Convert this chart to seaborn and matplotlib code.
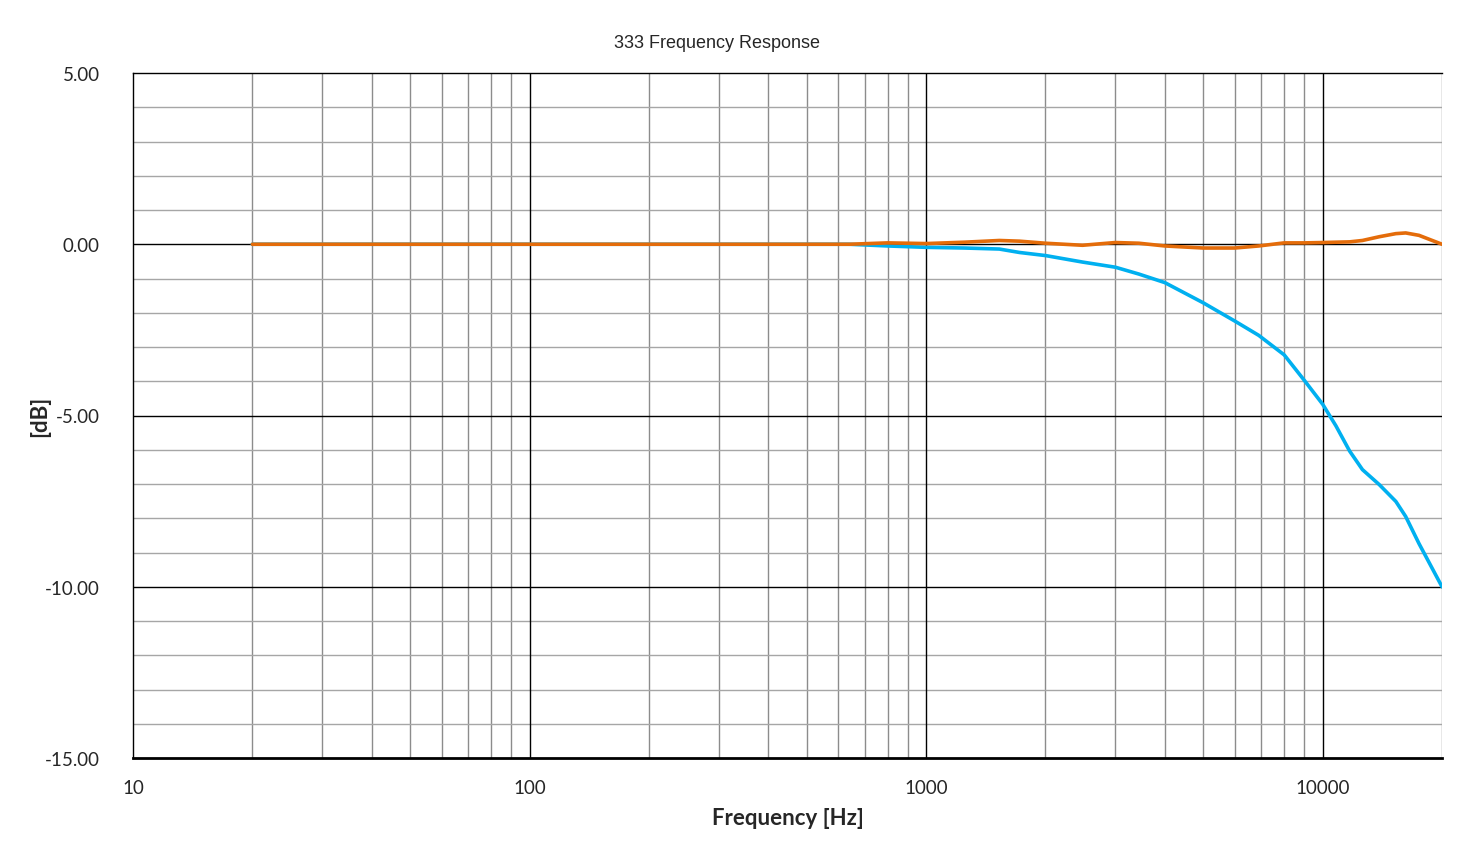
import matplotlib
matplotlib.use("Agg")
import matplotlib.pyplot as plt
import matplotlib.ticker as mticker
import pandas as pd
import seaborn as sns

freq = [20, 50, 100, 200, 400, 640, 800, 1000, 1250, 1530, 1720, 2000, 2480, 3000, 3440,
        4000, 5000, 6000, 6900, 8000, 9000, 10000, 10800, 11700, 12600, 13900, 15300,
        16200, 17500, 20000]
left_db = [0, 0, 0, 0, 0, 0, -0.05, -0.09, -0.11, -0.14, -0.24, -0.33, -0.52, -0.67, -0.87,
           -1.12, -1.71, -2.24, -2.66, -3.23, -3.98, -4.67, -5.30, -6.04, -6.58, -7.02, -7.51,
           -7.95, -8.74, -10.0]
right_db = [0, 0, 0, 0, 0, 0, 0.04, 0.02, 0.06, 0.11, 0.09, 0.03, -0.03, 0.05, 0.03,
            -0.05, -0.11, -0.11, -0.05, 0.04, 0.04, 0.05, 0.06, 0.07, 0.11, 0.22, 0.31,
            0.33, 0.26, 0.0]
x_ticks = [10, 100, 1000, 10000]
y_ticks = [5, 0, -5, -10, -15]

sns.set_style("white")
plt.rcParams["font.family"] = ["Lato", "DejaVu Sans"]

fig = plt.figure(figsize=(14.84, 8.53), dpi=100)
ax = fig.add_axes([133 / 1484, 1 - 759 / 853, (1442 - 133) / 1484, (759 - 74) / 853])

df = pd.DataFrame({"freq": freq, "L": left_db, "R": right_db})
sns.lineplot(data=df, x="freq", y="L", ax=ax, color="#00B0F0", linewidth=2.6, zorder=5,
             solid_joinstyle="round", solid_capstyle="round")
sns.lineplot(data=df, x="freq", y="R", ax=ax, color="#E46C0A", linewidth=2.6, zorder=6,
             solid_joinstyle="round", solid_capstyle="round")

ax.set_xscale("log")
ax.set_xlim(10, 20000)
ax.set_ylim(-15, 5)

# grid: minor gray, major black
for f in [m * 10 ** e for e in range(1, 5) for m in range(2, 10)]:
    if 10 < f <= 20000:
        ax.axvline(f, color="#8c8c8c", lw=1, zorder=1)
for f in x_ticks[1:]:
    ax.axvline(f, color="black", lw=1, zorder=2)
for v in range(-14, 5):
    if v % 5 != 0:
        ax.axhline(v, color="#a6a6a6", lw=1, zorder=1)
for v in [0, -5, -10]:
    ax.axhline(v, color="black", lw=1, zorder=2)

ax.set_xticks(x_ticks)
ax.xaxis.set_minor_locator(mticker.NullLocator())
ax.xaxis.set_major_formatter(mticker.FuncFormatter(lambda v, p: f"{int(v)}"))
ax.set_yticks(y_ticks)
ax.yaxis.set_major_formatter(mticker.FuncFormatter(lambda v, p: f"{v:.2f}"))
ax.tick_params(axis="both", length=0, labelsize=13.5)
ax.tick_params(axis="x", pad=15)
ax.tick_params(axis="y", pad=24)

for s in ["left", "top"]:
    ax.spines[s].set_color("black")
    ax.spines[s].set_linewidth(1)
ax.spines["bottom"].set_color("black")
ax.spines["bottom"].set_linewidth(2)
ax.spines["right"].set_visible(False)

ax.set_xlabel("Frequency [Hz]", fontsize=16, fontweight="bold", labelpad=8)
ax.set_ylabel("[dB]", fontsize=16, fontweight="bold", labelpad=-4)
fig.text(717 / 1484, 1 - 44 / 853, "333 Frequency Response", ha="center", va="center",
         fontsize=13, family=["Liberation Sans", "DejaVu Sans"])

fig.savefig("out.png", dpi=100)
